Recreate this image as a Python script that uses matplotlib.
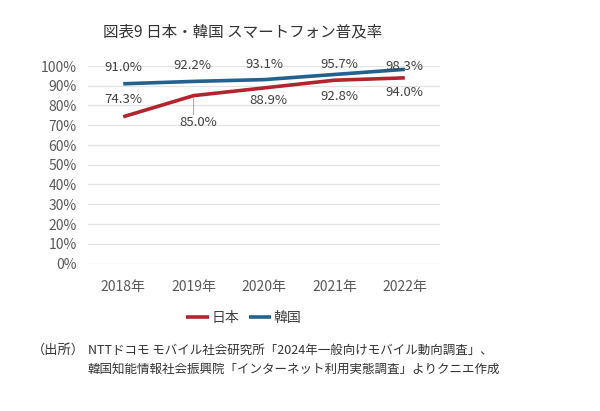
import matplotlib
matplotlib.use("Agg")
import matplotlib.pyplot as plt
from matplotlib.ticker import FuncFormatter, MultipleLocator

plt.rcParams['font.family'] = ['Noto Sans CJK JP', 'DejaVu Sans']

years = ["2018年", "2019年", "2020年", "2021年", "2022年"]
japan = [74.3, 85.0, 88.9, 92.8, 94.0]
korea = [91.0, 92.2, 93.1, 95.7, 98.3]
series_names = ["日本", "韓国"]
title = "図表9 日本・韓国 スマートフォン普及率"
source_head = "（出所）"
source_lines = ["NTTドコモ モバイル社会研究所「2024年一般向けモバイル動向調査」、",
                "韓国知能情報社会振興院「インターネット利用実態調査」よりクニエ作成"]

# label offsets in pixels (layout only)
jp_off = [(0, 17), (5, -27), (4, -13), (5, -16), (0, -15)]
kr_off = [(0, 16), (-1, 16), (0, 15), (5, 10), (0, 3)]

RED = "#B3252E"
BLUE = "#22628F"
TXT = "#404040"

W, H = 600, 411
fig = plt.figure(figsize=(6.0, 4.11), dpi=100)
ax = fig.add_axes([88 / W, 1 - 263.5 / H, 352 / W, 197.5 / H])

x = list(range(len(years)))
ax.plot(x, japan, color=RED, lw=2.6, solid_capstyle='butt', label=series_names[0], zorder=3)
ax.plot(x, korea, color=BLUE, lw=2.6, solid_capstyle='butt', label=series_names[1], zorder=3)

ax.set_xlim(-0.5, len(years) - 0.5)
ax.set_ylim(0, 100)
ax.yaxis.set_major_locator(MultipleLocator(10))
ax.yaxis.set_major_formatter(FuncFormatter(lambda v, p: f"{v:.0f}%"))
ax.set_xticks(x)
ax.set_xticklabels(years)
ax.tick_params(axis='both', length=0, labelsize=10, colors="#595959")
ax.tick_params(axis='y', pad=8)
ax.tick_params(axis='x', pad=12)
ax.grid(axis='y', color="#E3E3E3", lw=0.9)
ax.set_axisbelow(True)
for s in ax.spines.values():
    s.set_visible(False)

for i, v in enumerate(korea):
    ax.annotate(f"{v:.1f}%", (i, v), xytext=kr_off[i], textcoords='offset pixels',
                ha='center', va='center', fontsize=9.5, color=TXT, zorder=4)
for i, v in enumerate(japan):
    ax.annotate(f"{v:.1f}%", (i, v), xytext=jp_off[i], textcoords='offset pixels',
                ha='center', va='center', fontsize=9.5, color=TXT, zorder=4)
# leader line for 2019 Japan label
ax.annotate("", (1, japan[1]), xytext=(0, -19), textcoords='offset pixels',
            arrowprops=dict(arrowstyle='-', color="#A6A6A6", lw=0.7, shrinkA=0, shrinkB=2))

fig.text(243 / W, 1 - 32 / H, title, ha='center', va='center', fontsize=11.2, color="#333333")

fig.legend(loc='center', bbox_to_anchor=(244 / W, 1 - 318 / H), ncol=2, frameon=False,
           fontsize=10, handlelength=1.6, handletextpad=0.2, columnspacing=0.7,
           labelcolor="#404040")

fig.text(32 / W, 1 - 350 / H, source_head, ha='left', va='center', fontsize=9.5, color="#333333")
fig.text(88 / W, 1 - 350 / H, source_lines[0], ha='left', va='center', fontsize=9.0, color="#333333")
fig.text(88 / W, 1 - 369 / H, source_lines[1], ha='left', va='center', fontsize=9.0, color="#333333")

fig.savefig("out.png", dpi=100, facecolor="white")
